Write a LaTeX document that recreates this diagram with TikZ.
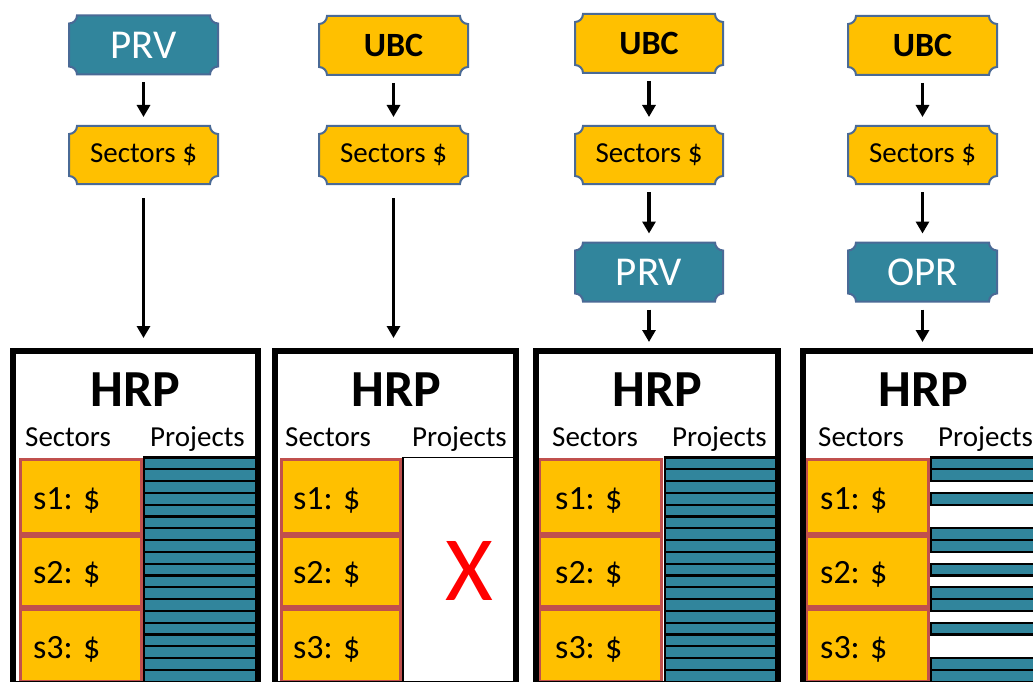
\documentclass[tikz,border=0pt]{standalone}
\usepackage{fontspec}
\setmainfont{Carlito}
\usetikzlibrary{arrows.meta,calc,backgrounds}
\definecolor{teal1}{HTML}{31859C}
\definecolor{gold}{HTML}{FFC000}
\definecolor{plqborder}{HTML}{4A6A96}
\definecolor{cellred}{HTML}{C0504D}
\tikzset{
 plq/.style={minimum width=149pt, minimum height=59pt, inner sep=0pt, outer sep=0pt},
 lbl/.style={font=\fontsize{29}{29}\selectfont},
 wtxt/.style={font=\fontsize{41}{41}\selectfont, text=white},
 btxt/.style={font=\bfseries\fontsize{34}{34}\selectfont},
 arr/.style={line width=3.5pt, -{Triangle[width=13pt,length=12pt]}, shorten <=8pt, shorten >=9pt},
 longarr/.style={arr, shorten <=14pt, shorten >=13pt},
 panel/.style={draw, line width=6pt, outer sep=0pt, inner sep=0pt},
 cell/.style={fill=gold, draw=cellred, line width=3pt},
 stripe/.style={fill=teal1, draw=black, line width=2.2pt},
 hrp/.style={font=\bfseries\fontsize{52}{52}\selectfont},
 cellt/.style={font=\fontsize{34}{34}\selectfont, anchor=base west, inner sep=0pt},
 headt/.style={font=\fontsize{29}{29}\selectfont, anchor=base west, inner sep=0pt},
}
\newcommand\plaque[2]{\path[fill=#2, draw=plqborder, line width=2pt]
 ($(#1.north west)+(8,0)$) -- ($(#1.north east)+(-8,0)$) arc[start angle=180,end angle=270,radius=8pt]
 -- ($(#1.south east)+(0,8)$) arc[start angle=90,end angle=180,radius=8pt]
 -- ($(#1.south west)+(8,0)$) arc[start angle=0,end angle=90,radius=8pt]
 -- ($(#1.north west)+(0,-8)$) arc[start angle=270,end angle=360,radius=8pt] -- cycle;}
\newcommand\cells[2]{% left x, right x
 \draw[cell] (#1,-459) rectangle (#2,-533.5);
 \draw[cell] (#1,-536.5) rectangle (#2,-606.5);
 \draw[cell] (#1,-609) rectangle (#2,-681);
}
\begin{document}
\begin{tikzpicture}[x=1pt,y=1pt]
\useasboundingbox (0,0) rectangle (1033,-682);
\clip (0,0) rectangle (1033,-682);

% top plaques (text nodes)
\node[plq,wtxt] (p1) at (143.5,-45) {PRV};
\node[plq,lbl,minimum height=58pt] (sA1) at (143.5,-155) {Sectors \$};
\node[plq,btxt] (u2) at (393.5,-45.5) {UBC};
\node[plq,lbl,minimum height=58pt] (sA2) at (393.5,-155) {Sectors \$};
\node[plq,btxt,minimum width=148pt] (u3) at (649,-43.5) {UBC};
\node[plq,lbl,minimum width=148pt,minimum height=58pt] (sA3) at (649,-155) {Sectors \$};
\node[plq,wtxt,minimum width=148pt] (p3) at (649,-272) {PRV};
\node[plq,btxt] (u4) at (922.5,-45.5) {UBC};
\node[plq,lbl,minimum height=58pt] (sA4) at (922.5,-155) {Sectors \$};
\node[plq,wtxt] (o4) at (922.5,-272) {OPR};
\begin{scope}[on background layer]
 \fill[white] (0,0) rectangle (1033,-682);
 \plaque{p1}{teal1}
 \plaque{sA1}{gold}
 \plaque{u2}{gold}
 \plaque{sA2}{gold}
 \plaque{u3}{gold}
 \plaque{sA3}{gold}
 \plaque{p3}{teal1}
 \plaque{u4}{gold}
 \plaque{sA4}{gold}
 \plaque{o4}{teal1}
\end{scope}

% panel contents
\cells{20}{141}
\cells{281.5}{400.5}
\cells{539.5}{661.5}
\cells{806.5}{928.5}
\foreach \k in {0,...,18}{
 \draw[stripe] (144,{-457.5-11.8*\k}) rectangle (256,{-457.5-11.8*(\k+1)});
 \draw[stripe] (665,{-457.5-11.8*\k}) rectangle (776,{-457.5-11.8*(\k+1)});
}
\foreach \k in {0,1,3,6,7,9,11,12,14,17,18}{
 \draw[stripe] (931,{-457.5-11.8*\k}) rectangle (1040,{-457.5-11.8*(\k+1)});
}
\draw[line width=1.2pt] (403,-684) -- (403,-457.5) -- (516,-457.5);

% panels
\node[panel,minimum width=245pt,minimum height=333pt] (h1) at (135.5,-517.5) {};
\node[panel,minimum width=241pt,minimum height=333pt] (h2) at (395.5,-517.5) {};
\node[panel,minimum width=242pt,minimum height=333pt] (h3) at (657,-517.5) {};
\node[panel,minimum width=242pt,minimum height=333pt] (h4) at (924,-517.5) {};

% panel texts
\node[hrp] (t1) at (135.5,-390) {HRP};
\node[hrp] (t2) at (396.5,-390) {HRP};
\node[hrp] (t3) at (657.5,-390) {HRP};
\node[hrp] (t4) at (923.5,-390) {HRP};
\node[headt] (a1) at (25,-446) {Sectors};
\node[headt] (b1) at (150,-446) {Projects};
\node[headt] (a2) at (285,-446) {Sectors};
\node[headt] (b2) at (412,-446) {Projects};
\node[headt] (a3) at (552,-446) {Sectors};
\node[headt] (b3) at (672,-446) {Projects};
\node[headt] (a4) at (818,-446) {Sectors};
\node[headt] (b4) at (938,-446) {Projects};
\foreach \x/\n in {33/1,293/2,555/3,820/4}{
 \node[cellt] (c1\n) at (\x,-509) {s1: \$};
 \node[cellt] (c2\n) at (\x,-583) {s2: \$};
 \node[cellt] (c3\n) at (\x,-658) {s3: \$};
}
\node[font=\fontsize{92}{92}\selectfont, text=red, inner sep=0pt] (x2) at (469,-571) {X};

% arrows
\draw[arr] (p1) -- (sA1);
\draw[longarr] (sA1.south) -- (sA1.south |- h1.north);
\draw[arr] (u2) -- (sA2);
\draw[longarr] (sA2.south) -- (sA2.south |- h2.north);
\draw[arr] (u3) -- (sA3);
\draw[arr] (sA3) -- (p3);
\draw[arr] (p3.south) -- (p3.south |- h3.north);
\draw[arr] (u4) -- (sA4);
\draw[arr] (sA4) -- (o4);
\draw[arr] (o4.south) -- (o4.south |- h4.north);
\end{tikzpicture}
\end{document}
